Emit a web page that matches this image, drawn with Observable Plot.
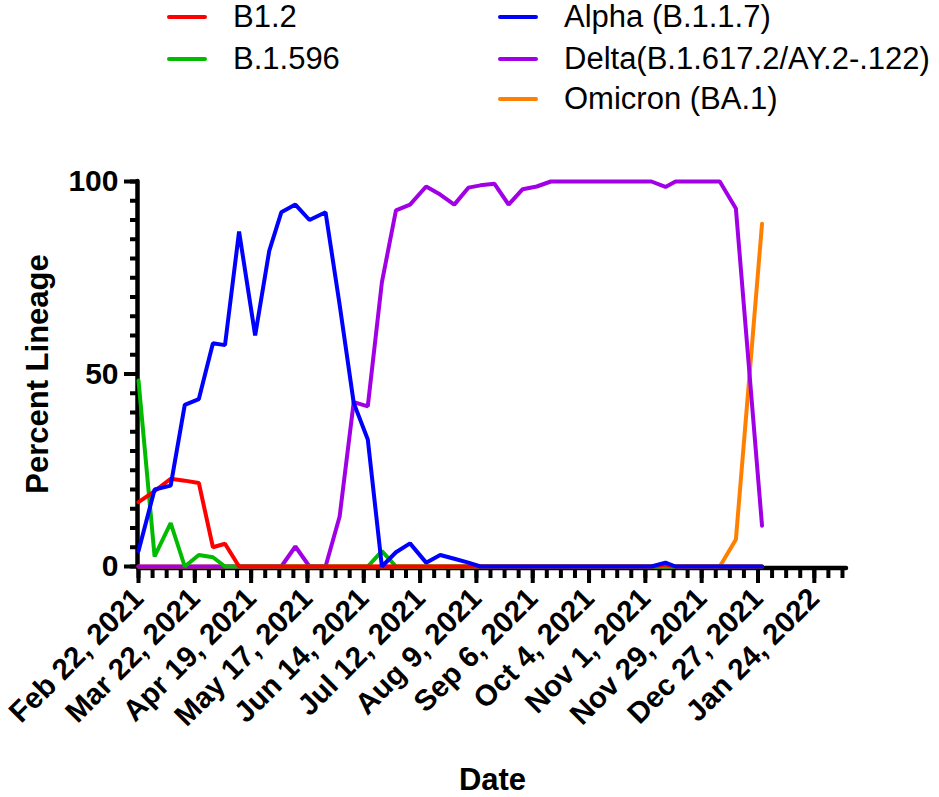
<!DOCTYPE html>
<html><head><meta charset="utf-8">
<script src="https://cdn.jsdelivr.net/npm/d3@7"></script>
<script src="https://cdn.jsdelivr.net/npm/@observablehq/plot@0.6"></script>
<style>
body{margin:0;background:#fff;font-family:"Liberation Sans",Arial,sans-serif;}
#legend{position:relative;width:939px;height:120px;}
.item{position:absolute;height:40px;display:flex;align-items:center;font-size:31px;color:#000;white-space:nowrap;}
.sw{display:inline-block;width:40px;height:4px;border-radius:2px;margin-right:26px;}
svg line{stroke-linecap:round}
</style></head><body>
<div id="legend"></div>
<div id="chart"></div>
<script>
// sample dates
const dates = ["2021-02-22","2021-03-02","2021-03-10","2021-03-17","2021-03-24","2021-03-31","2021-04-06","2021-04-13","2021-04-21","2021-04-28","2021-05-04","2021-05-11","2021-05-18","2021-05-26","2021-06-02","2021-06-09","2021-06-16","2021-06-23","2021-06-30","2021-07-07","2021-07-15","2021-07-22","2021-07-29","2021-08-05","2021-08-11","2021-08-18","2021-08-25","2021-09-01","2021-09-08","2021-09-15","2021-09-22","2021-09-29","2021-10-06","2021-10-13","2021-10-21","2021-10-28","2021-11-04","2021-11-11","2021-11-16","2021-11-23","2021-12-01","2021-12-08","2021-12-16","2021-12-29"];
const b12     = [16.7,19.6,22.8,22.3,21.7,5,5.9,0,0,0, 0,0,0,0,0,0,0,0,0,0, 0,0,0,0,0,0,0,0,0,0, 0,0,0,0,0,0,0,0.5,0,0, 0,0,0,0];
const b1596   = [48.3,2.6,11.3,0,3,2.4,0,0,0,0, 0,0,0,0,0,0,0,4,0,0, 0,0,0,0,0,0,0,0,0,0, 0,0,0,0,0,0,0,0,0,0, 0,0,0,0];
const alpha   = [4,20,21,42,43.5,58,57.5,87,60,82, 92,94,90,92,68,42.5,33,0,3.7,6, 1,3,2,1,0,0,0,0,0,0, 0,0,0,0,0,0,0,1,0,0, 0,0,0,0];
const delta   = [0,0,0,0,0,0,0,0,0,0, 0,5.2,0,0,13,42.7,41.6,73.8,92.5,94, 98.7,96.6,94,98.4,99,99.4,94,98,98.7,100, 100,100,100,100,100,100,100,98.6,100,100, 100,100,93,10.6];
const omicron = [0,0,0,0,0,0,0,0,0,0, 0,0,0,0,0,0,0,0,0,0, 0,0,0,0,0,0,0,0,0,0, 0,0,0,0,0,0,0,0,0,0, 0,0,7,89];

const seriesNames  = ["B1.2","B.1.596","Alpha (B.1.1.7)","Delta(B.1.617.2/AY.2-.122)","Omicron (BA.1)"];
const seriesColors = ["#FF0000","#00BB00","#0000FF","#A100E6","#FF8000"];
const majorTickDates = ["2021-02-22","2021-03-22","2021-04-19","2021-05-17","2021-06-14","2021-07-12","2021-08-09","2021-09-06","2021-10-04","2021-11-01","2021-11-29","2021-12-27","2022-01-24"];
const yMajor = [0,50,100];

// drawing order (bottom to top)
const drawOrder = [
  ["Omicron (BA.1)", omicron],
  ["Delta(B.1.617.2/AY.2-.122)", delta],
  ["B.1.596", b1596],
  ["B1.2", b12],
  ["Alpha (B.1.1.7)", alpha]
];
const rows = drawOrder.flatMap(([name, vals]) => vals.map((v, i) => ({date: new Date(dates[i]), value: v, series: name})));

const x0 = new Date("2021-02-22");
const x1 = new Date("2022-02-09");
const majorX = majorTickDates.map(d => new Date(d));
const minorX = d3.utcMonday.range(x0, new Date("2022-02-08"));
const minorY = d3.range(0, 101, 5);

// legend
const legend = document.getElementById("legend");
const legendPos = [[167,-3],[167,39],[498,-3],[498,39],[498,79]];
seriesNames.forEach((n, i) => {
  const el = document.createElement("div");
  el.className = "item";
  el.style.left = legendPos[i][0] + "px";
  el.style.top = legendPos[i][1] + "px";
  el.innerHTML = `<span class="sw" style="background:${seriesColors[i]}"></span><span>${n}</span>`;
  legend.appendChild(el);
});

const chart = Plot.plot({
  width: 939, height: 677,
  marginLeft: 138, marginRight: 93, marginTop: 61, marginBottom: 231,
  x: {type: "utc", domain: [x0, x1]},
  y: {domain: [0, 100]},
  color: {domain: seriesNames, range: seriesColors},
  style: {fontFamily: '"Liberation Sans", Arial, sans-serif', color: "#000", background: "#fff", overflow: "visible"},
  marks: [
    Plot.axisX(minorX, {tickSize: 12, strokeWidth: 4, fill: "none", label: null}),
    Plot.axisX(majorX, {tickSize: 17, strokeWidth: 4, tickRotate: -45, tickPadding: 10, tickFormat: d3.utcFormat("%b %-d, %Y"), fontSize: 29.5, fontWeight: "bold", label: null}),
    Plot.axisY(minorY, {tickSize: 8, strokeWidth: 4, fill: "none", label: null}),
    Plot.axisY(yMajor, {tickSize: 14, strokeWidth: 4, tickPadding: 6, fontSize: 30, fontWeight: "bold", label: null}),
    Plot.ruleY([0], {strokeWidth: 4.5, dy: 1.5}),
    Plot.ruleX([x0], {y1: 0, y2: 100, strokeWidth: 4.5, dx: -1}),
    Plot.line(rows, {x: "date", y: "value", z: "series", stroke: "series", strokeWidth: 4, strokeLinejoin: "miter"}),
    Plot.text(["Date"], {frameAnchor: "bottom", lineAnchor: "middle", dy: 214, fontSize: 31, fontWeight: "bold"}),
    Plot.text(["Percent Lineage"], {frameAnchor: "left", textAnchor: "middle", lineAnchor: "middle", dx: -100, rotate: -90, fontSize: 31, fontWeight: "bold"})
  ]
});
document.getElementById("chart").appendChild(chart);
</script>
</body></html>
